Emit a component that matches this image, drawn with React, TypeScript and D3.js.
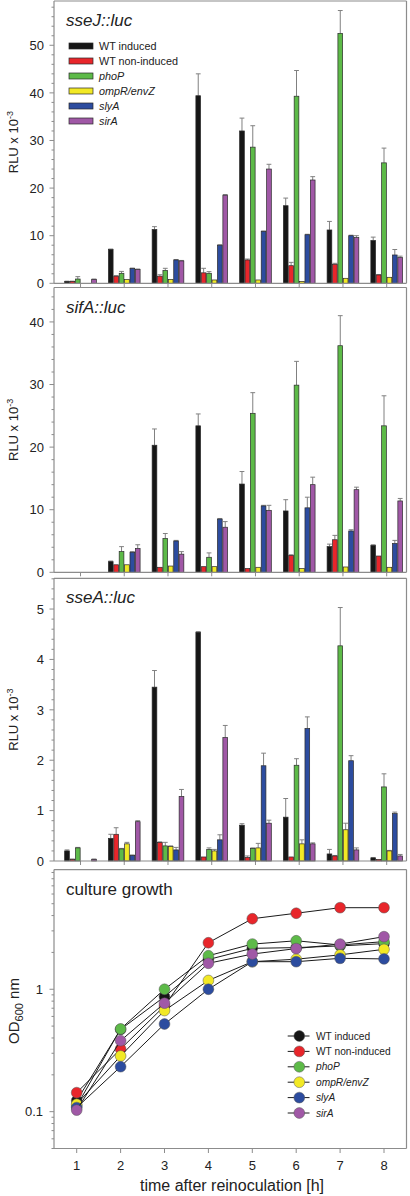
import React from "react";
import * as d3 from "d3";

const timepoints = [1, 2, 3, 4, 5, 6, 7, 8];
const seriesNames = ["WT induced", "WT non-induced", "phoP", "ompR/envZ", "slyA", "sirA"];
const seriesItalic = [false, false, true, true, true, true];
const seriesColors = ["#161616", "#e8262b", "#5dba48", "#f2e925", "#2c4c9f", "#a058a6"];

// sseJ::luc
const sseJValues = [
  [0.4, 7.1, 11.3, 39.4, 32.0, 16.3, 11.2, 9.0],
  [0.4, 1.5, 1.5, 2.2, 4.9, 3.7, 4.0, 1.75],
  [0.9, 2.1, 2.7, 2.1, 28.6, 39.3, 52.5, 25.3],
  [0, 0.8, 0.8, 0.7, 0.7, 0.4, 1.05, 1.26],
  [0, 3.1, 4.9, 8.0, 10.9, 10.2, 10.0, 5.95],
  [0.8, 2.9, 4.7, 18.5, 24.0, 21.7, 9.6, 5.4],
];
const sseJErrors = [
  [0.05, 0.1, 0.6, 4.6, 2.7, 1.6, 1.8, 0.7],
  [0.05, 0.1, 0.3, 0.95, 0.2, 0.7, 0.2, 0.1],
  [0.5, 0.4, 0.45, 0.35, 4.5, 5.4, 4.8, 3.1],
  [0, 0, 0, 0, 0, 0, 0, 0],
  [0, 0.1, 0.1, 0.1, 0.1, 0.1, 0.1, 1.15],
  [0.1, 0.1, 0.1, 0.15, 1.0, 0.7, 0.4, 0.3],
];

// sifA::luc
const sifAValues = [
  [0, 1.7, 20.3, 23.4, 14.1, 9.8, 4.1, 4.3],
  [0, 1.2, 0.8, 0.9, 0.6, 2.7, 5.2, 2.6],
  [0, 3.3, 5.4, 2.4, 25.4, 29.9, 36.2, 23.4],
  [0, 1.2, 1.0, 0.9, 0.8, 0.6, 0.85, 0.8],
  [0, 3.2, 5.0, 8.5, 10.6, 10.3, 6.6, 4.6],
  [0, 3.8, 2.9, 7.2, 9.9, 14.0, 13.2, 11.4],
];
const sifAErrors = [
  [0, 0.1, 2.6, 1.9, 2.0, 1.8, 0.4, 0.1],
  [0, 0, 0, 0, 0, 0.1, 0.7, 0],
  [0, 0.8, 0.8, 0.7, 3.3, 3.8, 4.8, 4.8],
  [0, 0, 0, 0, 0, 0, 0, 0],
  [0, 0.1, 0.1, 0.1, 0.1, 1.7, 0.2, 0.5],
  [0, 0.6, 0.4, 0.9, 0.8, 1.2, 0.4, 0.4],
];

// sseA::luc
const sseAValues = [
  [0.2, 0.45, 3.45, 4.54, 0.71, 0.87, 0.14, 0.06],
  [0.03, 0.53, 0.37, 0.08, 0.07, 0.08, 0.1, 0.03],
  [0.26, 0.24, 0.3, 0.23, 0.25, 1.9, 4.27, 1.47],
  [0, 0.34, 0.29, 0.2, 0.26, 0.34, 0.62, 0.2],
  [0, 0.11, 0.22, 0.42, 1.89, 2.63, 1.99, 0.94],
  [0.03, 0.78, 1.28, 2.45, 0.75, 0.34, 0.22, 0.1],
];
const sseAErrors = [
  [0.02, 0.08, 0.33, 0.01, 0.03, 0.37, 0.09, 0.01],
  [0.01, 0.13, 0.01, 0, 0.03, 0, 0.01, 0],
  [0.01, 0.01, 0.07, 0.03, 0.01, 0.13, 0.76, 0.26],
  [0, 0.03, 0.01, 0.03, 0.09, 0.08, 0.13, 0.01],
  [0, 0.01, 0.05, 0.1, 0.25, 0.23, 0.1, 0.03],
  [0.01, 0.02, 0.14, 0.24, 0.06, 0.02, 0.04, 0.03],
];

// culture growth OD600
const growthValues = [
  [0.123, 0.47, 0.87, 1.75, 2.16, 2.19, 2.26, 2.36],
  [0.143, 0.325, 0.73, 2.4, 3.77, 4.18, 4.64, 4.64],
  [0.111, 0.474, 1.0, 1.88, 2.34, 2.49, 2.3, 2.45],
  [0.115, 0.285, 0.67, 1.18, 1.68, 1.76, 1.91, 2.12],
  [0.108, 0.233, 0.52, 1.0, 1.68, 1.68, 1.79, 1.77],
  [0.103, 0.38, 0.77, 1.63, 1.94, 2.15, 2.34, 2.69],
];

const sseJTicks = [0, 10, 20, 30, 40, 50];
const sifATicks = [0, 10, 20, 30, 40];
const sseATicks = [0, 1, 2, 3, 4, 5];
const growthTicks = [0.1, 1];

const FONT = "'Liberation Sans', Arial, Helvetica, sans-serif";
const FRAME = "#8c8c8c";
const TEXT = "#222";
const LEFT = 54;
const RIGHT = 406.5;

const barX = d3.scaleLinear().domain([1, 8]).range([80.5, 386.7]);
const growthX = d3.scaleLinear().domain([1, 8]).range([76.7, 384]);
const inner = d3.scaleBand<number>().domain(d3.range(6)).range([-16.2, 16.2]).padding(0);

function RLULabel({ cy }: { cy: number }) {
  return (
    <text transform={`translate(17.5,${cy}) rotate(-90)`} textAnchor="middle" fontSize={13} fill={TEXT} fontFamily={FONT}>
      RLU x 10<tspan dy={-5} fontSize={9}>-3</tspan>
    </text>
  );
}

function BarPanel({ title, values, errors, top, bottom, max, ticks, minorStep, showLegend }: any) {
  const y = d3.scaleLinear().domain([0, max]).range([bottom, top]);
  const minor = d3.range(0, max + 1e-9, minorStep).filter((v) => !ticks.some((t: number) => Math.abs(t - v) < 1e-9));
  return (
    <g>
      <line x1={LEFT} x2={RIGHT} y1={top} y2={top} stroke={FRAME} strokeWidth={1.2} />
      <line x1={RIGHT} x2={RIGHT} y1={top} y2={bottom} stroke={FRAME} strokeWidth={1.2} />
      {timepoints.map((t) => (
        <line key={t} x1={barX(t)} x2={barX(t)} y1={bottom} y2={bottom + 4} stroke={FRAME} strokeWidth={1} />
      ))}
      {values.map((vals: number[], s: number) =>
        vals.map((v, i) => {
          const x0 = barX(timepoints[i]) + (inner(s) as number);
          const w = inner.bandwidth();
          const e = errors[s][i];
          const yt = y(v);
          const ye = y(v + e);
          return (
            <g key={`${s}-${i}`}>
              {e > 0 && v > 0 && (
                <g>
                  <line x1={x0 + w / 2} x2={x0 + w / 2} y1={yt} y2={ye} stroke="#808080" strokeWidth={1} />
                  <line x1={x0 + 0.3} x2={x0 + w - 0.3} y1={ye} y2={ye} stroke="#808080" strokeWidth={1} />
                </g>
              )}
              {v > 0 && (
                <rect x={x0 + 0.35} y={yt} width={w - 0.7} height={Math.max(0, bottom - yt)} fill={seriesColors[s]} stroke="#2a2a2a" strokeWidth={0.7} />
              )}
            </g>
          );
        })
      )}
      <line x1={LEFT} x2={RIGHT} y1={bottom} y2={bottom} stroke={FRAME} strokeWidth={1.2} />
      <line x1={LEFT} x2={LEFT} y1={top} y2={bottom} stroke={FRAME} strokeWidth={1.2} />
      {ticks.map((t: number) => (
        <g key={t}>
          <line x1={LEFT - 4.5} x2={LEFT} y1={y(t)} y2={y(t)} stroke={FRAME} strokeWidth={1} />
          <text x={LEFT - 10} y={y(t)} dy="0.36em" textAnchor="end" fontSize={13} fill={TEXT} fontFamily={FONT}>
            {t}
          </text>
        </g>
      ))}
      {minor.map((t: number) => (
        <line key={`m${t}`} x1={LEFT - 2.5} x2={LEFT} y1={y(t)} y2={y(t)} stroke={FRAME} strokeWidth={1} />
      ))}
      <text x={66} y={top + 25} fontSize={17} fontStyle="italic" fill={TEXT} fontFamily={FONT}>
        {title}
      </text>
      <RLULabel cy={(top + bottom) / 2} />
      {showLegend &&
        seriesNames.map((n, s) => (
          <g key={n}>
            <rect x={69} y={top + 42 + s * 15} width={24} height={6} fill={seriesColors[s]} stroke="#2a2a2a" strokeWidth={0.7} />
            <text x={99} y={top + 45 + s * 15} dy="0.36em" fontSize={10.8} fontStyle={seriesItalic[s] ? "italic" : "normal"} fill={TEXT} fontFamily={FONT}>
              {n}
            </text>
          </g>
        ))}
    </g>
  );
}

function GrowthPanel() {
  const top = 869.6;
  const bottom = 1148.5;
  const y = d3.scaleLog().domain([0.05, 9.5]).range([bottom, top]);
  const minor: number[] = [];
  [0.01, 0.1, 1].forEach((d) => {
    for (let k = 2; k <= 9; k++) {
      const v = d * k;
      if (v >= 0.05 && v <= 9.5) minor.push(v);
    }
  });
  const line = d3
    .line<number>()
    .x((_, i) => growthX(timepoints[i]))
    .y((v) => y(v));
  return (
    <g>
      <line x1={LEFT} x2={RIGHT} y1={top} y2={top} stroke={FRAME} strokeWidth={1.2} />
      <line x1={RIGHT} x2={RIGHT} y1={top} y2={bottom} stroke={FRAME} strokeWidth={1.2} />
      <line x1={LEFT} x2={RIGHT} y1={bottom} y2={bottom} stroke={FRAME} strokeWidth={1.2} />
      <line x1={LEFT} x2={LEFT} y1={top} y2={bottom} stroke={FRAME} strokeWidth={1.2} />
      {timepoints.map((t) => (
        <g key={t}>
          <line x1={growthX(t)} x2={growthX(t)} y1={bottom} y2={bottom + 4.5} stroke={FRAME} strokeWidth={1} />
          <text x={growthX(t)} y={bottom + 21} textAnchor="middle" fontSize={13} fill={TEXT} fontFamily={FONT}>
            {t}
          </text>
        </g>
      ))}
      {growthTicks.map((t) => (
        <g key={t}>
          <line x1={LEFT - 4.5} x2={LEFT} y1={y(t)} y2={y(t)} stroke={FRAME} strokeWidth={1} />
          <text x={LEFT - 11} y={y(t)} dy="0.36em" textAnchor="end" fontSize={13} fill={TEXT} fontFamily={FONT}>
            {t}
          </text>
        </g>
      ))}
      {minor.map((t) => (
        <line key={`m${t}`} x1={LEFT - 2.5} x2={LEFT} y1={y(t)} y2={y(t)} stroke={FRAME} strokeWidth={1} />
      ))}
      {growthValues.map((vals, s) => (
        <g key={s}>
          <path d={line(vals) || ""} fill="none" stroke="#1a1a1a" strokeWidth={1} />
          {vals.map((v, i) => (
            <circle key={i} cx={growthX(timepoints[i])} cy={y(v)} r={5.4} fill={seriesColors[s]} stroke="#555" strokeWidth={0.5} />
          ))}
        </g>
      ))}
      <text x={66} y={top + 25} fontSize={17} fill={TEXT} fontFamily={FONT}>
        culture growth
      </text>
      <text transform={`translate(19,1011) rotate(-90)`} textAnchor="middle" fontSize={15} fill={TEXT} fontFamily={FONT}>
        OD<tspan dy={4} fontSize={11}>600</tspan>
        <tspan dy={-4}> nm</tspan>
      </text>
      {seriesNames.map((n, s) => {
        const ly = 1036 + s * 15.4;
        return (
          <g key={n}>
            <line x1={287.7} x2={309.5} y1={ly} y2={ly} stroke="#1a1a1a" strokeWidth={1} />
            <circle cx={299.3} cy={ly} r={5.4} fill={seriesColors[s]} stroke="#555" strokeWidth={0.5} />
            <text x={316} y={ly} dy="0.36em" fontSize={10.2} fontStyle={seriesItalic[s] ? "italic" : "normal"} fill={TEXT} fontFamily={FONT}>
              {n}
            </text>
          </g>
        );
      })}
      <text x={232} y={1191} textAnchor="middle" fontSize={16} fill={TEXT} fontFamily={FONT}>
        time after reinoculation [h]
      </text>
    </g>
  );
}

export default function App() {
  return (
    <svg width={410} height={1196} style={{ position: "absolute", left: 0, top: 0, background: "#fff" }}>
      <rect x={0} y={0} width={410} height={1196} fill="#fff" />
      <BarPanel title="sseJ::luc" values={sseJValues} errors={sseJErrors} top={1} bottom={283.3} max={59.3} ticks={sseJTicks} minorStep={2} showLegend />
      <BarPanel title="sifA::luc" values={sifAValues} errors={sifAErrors} top={287.5} bottom={572.3} max={45.5} ticks={sifATicks} minorStep={2} />
      <BarPanel title="sseA::luc" values={sseAValues} errors={sseAErrors} top={578.3} bottom={861} max={5.61} ticks={sseATicks} minorStep={0.2} />
      <GrowthPanel />
    </svg>
  );
}
